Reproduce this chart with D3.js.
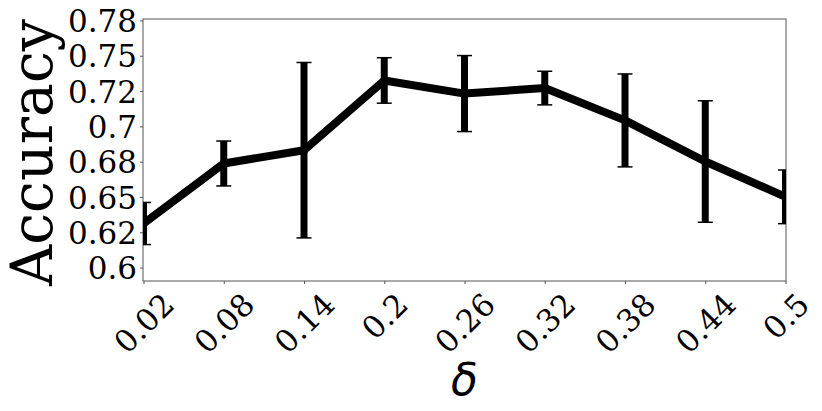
<!DOCTYPE html>
<html>
<head>
<meta charset="utf-8">
<script src="https://cdn.jsdelivr.net/npm/d3@7"></script>
<style>
  html, body { margin: 0; padding: 0; background: #fff; }
  svg { display: block; }
</style>
</head>
<body>
<svg id="chart" width="822" height="411"></svg>
<script>
// ---- data ----
const deltas = [0.02, 0.08, 0.14, 0.2, 0.26, 0.32, 0.38, 0.44, 0.5];
const deltaLabels = ["0.02", "0.08", "0.14", "0.2", "0.26", "0.32", "0.38", "0.44", "0.5"];
const accuracy = [0.6312, 0.6737, 0.6831, 0.7325, 0.7232, 0.7271, 0.7042, 0.6751, 0.6501];
const accuracyErr = [0.0149, 0.0159, 0.0621, 0.0161, 0.0269, 0.0119, 0.0329, 0.0430, 0.0190];
const yTicks = [0.6, 0.625, 0.65, 0.675, 0.7, 0.725, 0.75, 0.775];
const yTickLabels = ["0.6", "0.62", "0.65", "0.68", "0.7", "0.72", "0.75", "0.78"];

// ---- layout ----
const W = 822, H = 411;
const margin = { left: 143, right: 36, top: 19, bottom: 130 };
const iw = W - margin.left - margin.right;
const ih = H - margin.top - margin.bottom;

const svg = d3.select("#chart");
const g = svg.append("g").attr("transform", `translate(${margin.left},${margin.top})`);

const x = d3.scaleLinear().domain([0.02, 0.5]).range([0.5, iw - 0.5]);
const y = d3.scaleLinear().domain([0.5905, 0.776]).range([ih, 0]);

svg.append("defs").append("clipPath").attr("id", "plotclip")
  .append("rect").attr("x", 0).attr("y", 0).attr("width", iw).attr("height", ih);

const serif = "'DejaVu Serif', serif";
const tickFont = 31;

// y axis
const yAxis = g.append("g")
  .call(d3.axisLeft(y).tickValues(yTicks).tickSize(3).tickPadding(3)
    .tickFormat((d, i) => yTickLabels[i]));
yAxis.select(".domain").remove();
yAxis.selectAll(".tick line").attr("stroke", "#555").attr("stroke-width", 1);
yAxis.selectAll(".tick text")
  .attr("font-family", serif).attr("font-size", tickFont).attr("fill", "#000")
  .attr("dy", "0.36em");

// x axis
const xAxis = g.append("g").attr("transform", `translate(0,${ih})`)
  .call(d3.axisBottom(x).tickValues(deltas).tickSize(3)
    .tickFormat((d, i) => deltaLabels[i]));
xAxis.select(".domain").remove();
xAxis.selectAll(".tick line").attr("stroke", "#555").attr("stroke-width", 1);
xAxis.selectAll(".tick text")
  .attr("font-family", serif).attr("font-size", tickFont).attr("fill", "#000")
  .attr("text-anchor", "middle")
  .attr("dy", null)
  .attr("dominant-baseline", "central")
  .each(function () {
    const w = this.getComputedTextLength() - 3;
    const hInk = 22;
    const h = (w + hInk) / Math.SQRT2;
    const cy = 11 + h / 2;
    d3.select(this).attr("x", 0).attr("y", 0)
      .attr("transform", `translate(0,${cy}) rotate(-45)`);
  });

// frame
g.append("rect").attr("x", 0).attr("y", 0).attr("width", iw).attr("height", ih)
  .attr("fill", "none").attr("stroke", "#555").attr("stroke-width", 1);

// data
const pts = deltas.map((d, i) => ({ d, v: accuracy[i], e: accuracyErr[i] }));
const plot = g.append("g").attr("clip-path", "url(#plotclip)");

plot.append("path").datum(pts)
  .attr("fill", "none").attr("stroke", "#000").attr("stroke-width", 8)
  .attr("stroke-linejoin", "round")
  .attr("d", d3.line().x(p => x(p.d)).y(p => y(p.v)));

const eb = plot.selectAll(".eb").data(pts).enter().append("g");
eb.append("line")
  .attr("x1", p => x(p.d)).attr("x2", p => x(p.d))
  .attr("y1", p => y(p.v - p.e)).attr("y2", p => y(p.v + p.e))
  .attr("stroke", "#000").attr("stroke-width", 7);
eb.append("line")
  .attr("x1", p => x(p.d) - 7.5).attr("x2", p => x(p.d) + 7.5)
  .attr("y1", p => y(p.v + p.e)).attr("y2", p => y(p.v + p.e))
  .attr("stroke", "#000").attr("stroke-width", 1.5);
eb.append("line")
  .attr("x1", p => x(p.d) - 7.5).attr("x2", p => x(p.d) + 7.5)
  .attr("y1", p => y(p.v - p.e)).attr("y2", p => y(p.v - p.e))
  .attr("stroke", "#000").attr("stroke-width", 1.5);

// labels
svg.append("text")
  .attr("transform", `translate(52,${(20 + 285) / 2}) rotate(-90)`)
  .attr("text-anchor", "middle")
  .attr("font-family", serif).attr("font-size", 57).attr("fill", "#000")
  .text("Accuracy");

svg.append("text")
  .attr("x", margin.left + iw / 2).attr("y", 395)
  .attr("text-anchor", "middle")
  .attr("font-family", "'DejaVu Sans', sans-serif").attr("font-style", "italic")
  .attr("font-size", 44).attr("fill", "#000")
  .text("δ");
</script>
</body>
</html>
